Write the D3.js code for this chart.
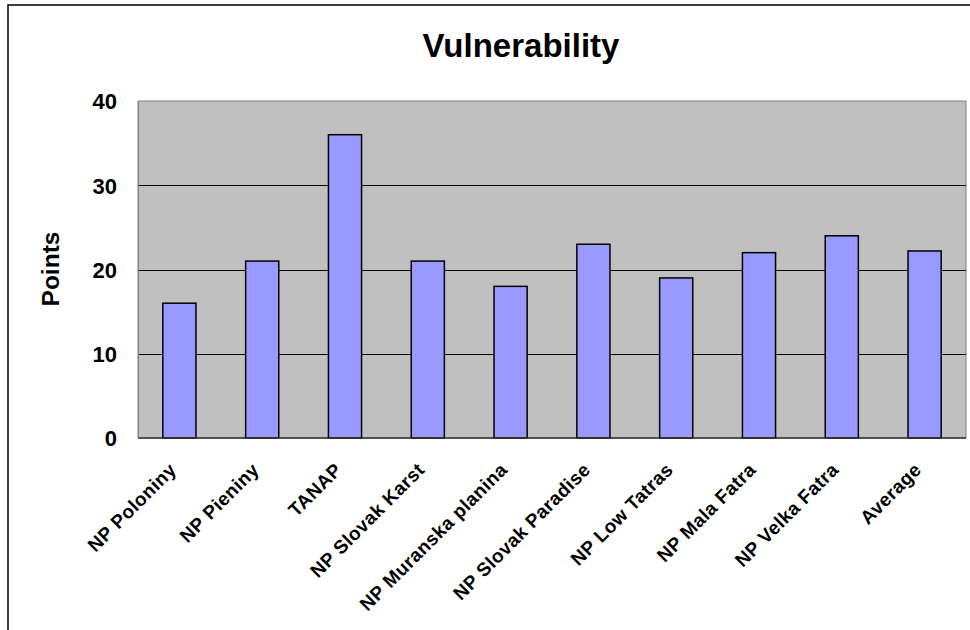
<!DOCTYPE html>
<html><head><meta charset="utf-8">
<script src="https://cdn.jsdelivr.net/npm/d3@7/dist/d3.min.js"></script>
<style>body{margin:0;background:#fff}svg{display:block}text{font-family:"Liberation Sans",Arial,sans-serif;font-weight:bold;fill:#000}</style>
</head><body><svg id="c" width="970" height="630"></svg>
<script>
const categories = ["NP Poloniny","NP Pieniny","TANAP","NP Slovak Karst","NP Muranska planina","NP Slovak Paradise","NP Low Tatras","NP Mala Fatra","NP Velka Fatra","Average"];
const values = [16,21,36,21,18,23,19,22,24,22.2];
const yTicks = [0,10,20,30,40];
const title = "Vulnerability";
const yTitle = "Points";

const svg = d3.select("#c");
const L=138, R=966, T=101, B=438;
svg.append("rect").attr("x",8).attr("y",5).attr("width",1000).attr("height",700)
  .attr("fill","#fff").attr("stroke","#000").attr("stroke-width",1.5);

const x = d3.scaleBand().domain(categories).range([L,R]).paddingInner(0.6).paddingOuter(0.3);
const y = d3.scaleLinear().domain([0,40]).range([B,T]);

svg.append("rect").attr("x",L).attr("y",T).attr("width",R-L).attr("height",B-T)
  .attr("fill","#c0c0c0").attr("stroke","#808080").attr("stroke-width",1);

svg.append("g").selectAll("line").data(yTicks.filter(d=>d>0&&d<40)).join("line")
  .attr("x1",L).attr("x2",R).attr("y1",d=>Math.round(y(d))+0.5).attr("y2",d=>Math.round(y(d))+0.5)
  .attr("stroke","#000").attr("stroke-width",1);

svg.append("g").selectAll("rect").data(values).join("rect")
  .attr("x",(d,i)=>x(categories[i])).attr("width",x.bandwidth())
  .attr("y",d=>y(d)).attr("height",d=>B-y(d))
  .attr("fill","#9999ff").attr("stroke","#000").attr("stroke-width",1.5);

svg.append("line").attr("x1",L).attr("x2",R).attr("y1",B).attr("y2",B).attr("stroke","#333").attr("stroke-width",1.5);

// y axis
const ya = d3.axisLeft(y).tickValues(yTicks).tickSize(0).tickPadding(21);
const yg = svg.append("g").attr("transform",`translate(${L},0)`).call(ya);
yg.select(".domain").attr("stroke","#808080");
yg.selectAll("text").style("font-size","22px").attr("font-family",null).attr("dy","0.36em");

// x labels
const xa = d3.axisBottom(x).tickSize(0).tickFormat(d=>d);
const xg = svg.append("g").attr("transform",`translate(0,${B})`).call(xa);
xg.select(".domain").remove();
xg.selectAll(".tick text").attr("font-family",null).style("font-size","19px").style("letter-spacing","0.4px")
  .attr("text-anchor","end").attr("y",0).attr("dy",0)
  .attr("transform","translate(-2,33) rotate(-45)");

svg.append("text").attr("x",521).attr("y",57).attr("text-anchor","middle").style("font-size","33px").text(title);
svg.append("text").attr("transform","translate(59,269) rotate(-90)").attr("text-anchor","middle").style("font-size","24.5px").text(yTitle);
</script></body></html>
